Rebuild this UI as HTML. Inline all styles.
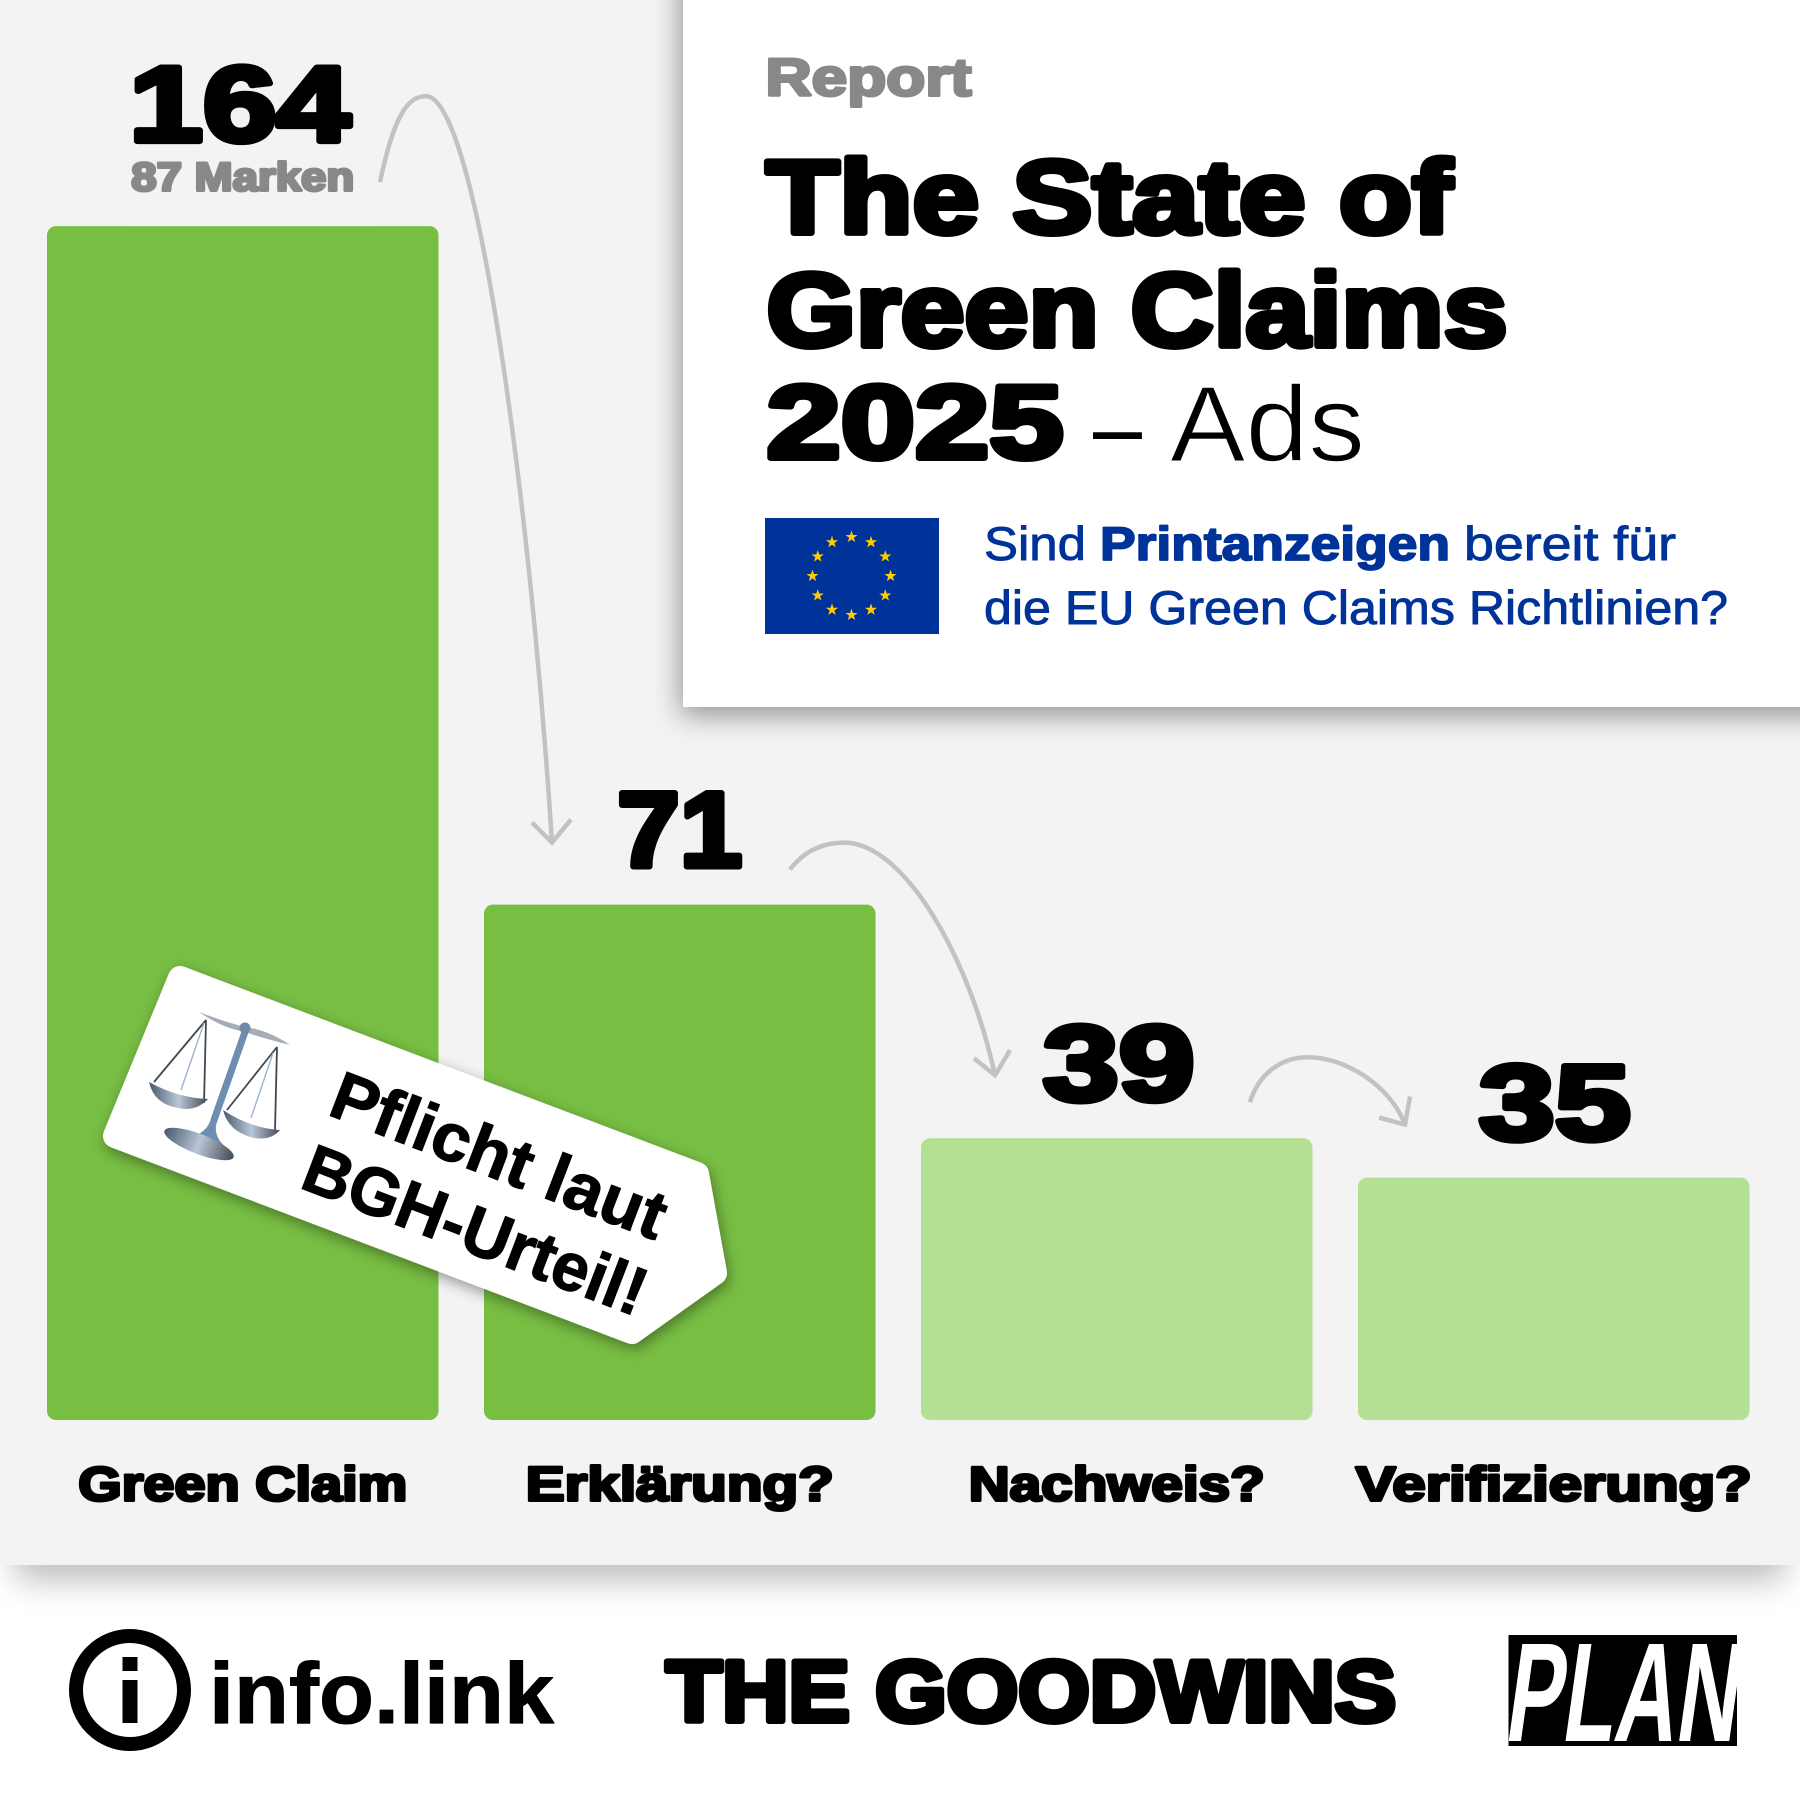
<!DOCTYPE html>
<html lang="de">
<head>
<meta charset="utf-8">
<title>The State of Green Claims 2025 – Ads</title>
<style>
  html, body { margin: 0; padding: 0; background: #fff; }
  #stage { position: relative; width: 1800px; height: 1800px; overflow: hidden; background: #fff; font-family: "Liberation Sans", sans-serif; }
  #panel { position: absolute; left: 0; top: 0; width: 1800px; height: 1565px; background: #f3f3f3; box-shadow: 0 30px 30px -15px rgba(0,0,0,.26); }
  #card { position: absolute; left: 683px; top: -40px; width: 1200px; height: 747px; background: #fff; box-shadow: -2px 8px 26px rgba(0,0,0,.4); }
  svg { position: absolute; left: 0; top: 0; }
  text { font-family: "Liberation Sans", sans-serif; }
  .heavy { font-weight: 700; stroke-linejoin: round; paint-order: stroke fill; }
</style>
</head>
<body>
<div id="stage">
  <div id="panel"></div>
  <div id="card"></div>
  <svg id="chart" width="1800" height="1800" viewBox="0 0 1800 1800" xmlns="http://www.w3.org/2000/svg">
    <defs>
      <filter id="sign-shadow" x="-15%" y="-15%" width="130%" height="130%">
        <feDropShadow dx="2" dy="5" stdDeviation="7" flood-color="#000" flood-opacity=".38"/>
      </filter>
      <linearGradient id="metal" x1="0" y1="0" x2="1" y2="0">
        <stop offset="0" stop-color="#4a5a70"/>
        <stop offset=".5" stop-color="#b9c6d6"/>
        <stop offset="1" stop-color="#444b55"/>
      </linearGradient>
      <clipPath id="plan-clip"><rect x="1508.5" y="1635" width="228.5" height="111"/></clipPath>
    </defs>

    <g id="bars"></g>
    <g id="arrows"></g>
    <g id="value-labels"></g>
    <g id="category-labels"></g>

    <!-- Header -->
    <text class="heavy" x="765.5" y="95.5" font-size="53" fill="#888" stroke="#888" stroke-width="3" textLength="206" lengthAdjust="spacingAndGlyphs">Report</text>
    <text class="heavy" x="766" y="233" font-size="104" fill="#000" stroke="#000" stroke-width="6" textLength="686" lengthAdjust="spacingAndGlyphs">The State of</text>
    <text class="heavy" x="766.500" y="346" font-size="104" fill="#000" stroke="#000" stroke-width="6" textLength="741" lengthAdjust="spacingAndGlyphs">Green Claims</text>
    <text class="heavy" x="766.500" y="458" font-size="104" fill="#000" stroke="#000" stroke-width="6" textLength="297" lengthAdjust="spacingAndGlyphs">2025</text>
    <text x="1093" y="461" font-size="100" fill="#000" textLength="49" lengthAdjust="spacingAndGlyphs">–</text>
    <text x="1170" y="461" font-size="108" fill="#000" stroke="#fff" stroke-width="1.6" textLength="195" lengthAdjust="spacingAndGlyphs">Ads</text>

    <rect x="765" y="518" width="174" height="116" fill="#003399"/>
    <g id="eu-stars"></g>

    <text x="984" y="560" font-size="47" fill="#003399" stroke="#003399" stroke-width=".9" textLength="102" lengthAdjust="spacingAndGlyphs">Sind</text>
    <text class="heavy" x="1100" y="560" font-size="47" fill="#003399" stroke="#003399" stroke-width="1.8" textLength="350" lengthAdjust="spacingAndGlyphs">Printanzeigen</text>
    <text x="1464" y="560" font-size="47" fill="#003399" stroke="#003399" stroke-width=".9" textLength="212" lengthAdjust="spacingAndGlyphs">bereit für</text>
    <text x="984" y="624" font-size="47" fill="#003399" stroke="#003399" stroke-width=".9" textLength="744" lengthAdjust="spacingAndGlyphs">die EU Green Claims Richtlinien?</text>

    <!-- Sign -->
    <g>
      <polygon points="180,978 697,1174 715,1273 632,1332 115,1136" fill="#fff" stroke="#fff" stroke-width="24" stroke-linejoin="round" filter="url(#sign-shadow)"/>
      <g>
        <g stroke="#3f4852" stroke-width="1.8" fill="none">
          <path d="M206,1020 L154,1082 M206,1020 L204,1103 M277,1047 L227,1110 M277,1047 L275,1130"/>
        </g>
        <g stroke="#9fb2cc" stroke-width="1.4" fill="none">
          <path d="M204,1023 L181,1090 M273,1053 L251,1118"/>
        </g>
        <path d="M149,1082 Q178,1098 208,1099 Q196,1112 178,1108 Q154,1104 149,1082 Z" fill="url(#metal)"/>
        <path d="M223,1110 Q250,1128 280,1130 Q270,1142 250,1137 Q228,1130 223,1110 Z" fill="url(#metal)"/>
        <path d="M199,1012 Q225,1022 245,1027 Q268,1030 290,1045 Q262,1038 245,1032 Q222,1028 199,1012 Z" fill="#a6adb8"/>
        <path d="M242,1030 L249,1031 L216,1125 Q214,1140 230,1150 L190,1138 Q208,1132 211,1118 Z" fill="#6f8db0"/>
        <circle cx="245" cy="1028" r="5.500" fill="#6f8aa8"/>
        <ellipse cx="199" cy="1144" rx="37" ry="10" transform="rotate(21 199 1144)" fill="url(#metal)"/>
      </g>
      <text x="0" y="0" transform="translate(326,1114) rotate(21)" font-size="68" font-weight="700" fill="#000" stroke="#000" stroke-width="1.2" textLength="353" lengthAdjust="spacingAndGlyphs">Pflicht laut</text>
      <text x="0" y="0" transform="translate(298,1187) rotate(21)" font-size="68" font-weight="700" fill="#000" stroke="#000" stroke-width="1.2" textLength="362" lengthAdjust="spacingAndGlyphs">BGH-Urteil!</text>
    </g>

    <!-- Footer logos -->
    <g>
      <circle cx="130" cy="1690" r="54" fill="none" stroke="#000" stroke-width="14"/>
      <rect x="122.500" y="1657" width="15" height="14" fill="#000"/>
      <rect x="122.500" y="1680" width="15" height="43" fill="#000"/>
      <text class="heavy" x="209" y="1723" font-size="86" fill="#000" stroke="#000" stroke-width="1" textLength="345" lengthAdjust="spacingAndGlyphs">info.link</text>
    </g>
    <text class="heavy" x="666" y="1721" font-size="86" fill="#000" stroke="#000" stroke-width="6" textLength="730" lengthAdjust="spacingAndGlyphs">THE GOODWINS</text>
    <g>
      <rect x="1508.5" y="1635" width="228.5" height="111" fill="#000"/>
      <g clip-path="url(#plan-clip)">
        <text transform="translate(1503,1741) skewX(-8)" x="0" y="0" font-size="141" font-weight="700" fill="#fff" textLength="232" lengthAdjust="spacingAndGlyphs">PLAN</text>
      </g>
    </g>
  </svg>
</div>

<script>
const categories = ['Green Claim', 'Erklärung?', 'Nachweis?', 'Verifizierung?'];
const barValues = [164, 70.8, 38.7, 33.3];
const valueLabels = ['164', '71', '39', '35'];
const barEmphasis = [true, true, false, false];

const SVG_NS = 'http://www.w3.org/2000/svg';

function xBand(i) { return 47 + i * 437; }
const bandWidth = 391.5;
function yValue(v) { return 1420 - v * 7.28; }

function drawBars() {
  const host = document.getElementById('bars');
  barValues.forEach(function (v, i) {
    const rect = document.createElementNS(SVG_NS, 'rect');
    rect.setAttribute('x', xBand(i));
    rect.setAttribute('y', yValue(v));
    rect.setAttribute('width', bandWidth);
    rect.setAttribute('height', yValue(0) - yValue(v));
    rect.setAttribute('rx', 9);
    rect.setAttribute('fill', barEmphasis[i] ? '#78be43' : '#b5df93');
    
    
    host.appendChild(rect);
  });
}

function drawValueLabels() {
  const host = document.getElementById('value-labels');
  const fit = [221, 125, 152, 152];
  const shift = [-3, 0, 2, 1];
  valueLabels.forEach(function (label, i) {
    const t = document.createElementNS(SVG_NS, 'text');
    const gap = i === 0 ? 85 : 38;
    t.setAttribute('class', 'heavy');
    t.setAttribute('x', xBand(i) + bandWidth / 2 + shift[i]);
    t.setAttribute('y', yValue(barValues[i]) - gap);
    t.setAttribute('text-anchor', 'middle');
    t.setAttribute('font-size', 107);
    t.setAttribute('fill', '#000');
    t.setAttribute('stroke', '#000');
    t.setAttribute('stroke-width', 6);
    t.setAttribute('textLength', fit[i]);
    t.setAttribute('lengthAdjust', 'spacingAndGlyphs');
    
    
    t.textContent = label;
    host.appendChild(t);
  });
  const sub = document.createElementNS(SVG_NS, 'text');
  sub.setAttribute('class', 'heavy');
  sub.setAttribute('x', xBand(0) + bandWidth / 2);
  sub.setAttribute('y', yValue(barValues[0]) - 35.5);
  sub.setAttribute('text-anchor', 'middle');
  sub.setAttribute('font-size', 40);
  sub.setAttribute('fill', '#888');
  sub.setAttribute('stroke', '#888');
  sub.setAttribute('stroke-width', 3);
  sub.setAttribute('textLength', 223);
  sub.setAttribute('lengthAdjust', 'spacingAndGlyphs');
  
  
  sub.textContent = '87 Marken';
  host.appendChild(sub);
}

function drawCategoryLabels() {
  const host = document.getElementById('category-labels');
  const fit = [329, 308, 296, 396];
  categories.forEach(function (name, i) {
    const t = document.createElementNS(SVG_NS, 'text');
    t.setAttribute('class', 'heavy');
    t.setAttribute('x', xBand(i) + bandWidth / 2);
    t.setAttribute('y', 1500.5);
    t.setAttribute('text-anchor', 'middle');
    t.setAttribute('font-size', 48);
    t.setAttribute('fill', '#000');
    t.setAttribute('stroke', '#000');
    t.setAttribute('stroke-width', 3);
    t.setAttribute('textLength', fit[i]);
    t.setAttribute('lengthAdjust', 'spacingAndGlyphs');
    
    
    t.textContent = name;
    host.appendChild(t);
  });
}

function drawArrows() {
  const host = document.getElementById('arrows');
  // Each arrow leaves above one bar and lands above the next one.
  const shapes = [
    { sx: 333, sy: 44, ex: 68, ey: 62, px: 46, py: -86, a: [15, -72, 30, -86], b: [50, 0, 104, 404], h: [-20, -20, 19, -23] },
    { sx: 306, sy: 35, ex: 74, ey: 63, px: 54, py: -27, a: [15, -20, 35, -27], b: [61, 0, 126, 117], h: [-21, -17, 15, -25] },
    { sx: 329, sy: 36, ex: 47, ey: 53, px: 58, py: -45, a: [8, -27, 30, -45], b: [37, 0, 82, 28], h: [-26, -7, 5, -28] }
  ];
  shapes.forEach(function (s, i) {
    const x0 = xBand(i) + s.sx;
    const y0 = yValue(barValues[i]) - s.sy;
    const x1 = xBand(i + 1) + s.ex;
    const y1 = yValue(barValues[i + 1]) - s.ey;
    const px = x0 + s.px;
    const py = y0 + s.py;
    const d = 'M' + x0 + ',' + y0 +
      ' C' + (x0 + s.a[0]) + ',' + (y0 + s.a[1]) + ' ' + (x0 + s.a[2]) + ',' + py + ' ' + px + ',' + py +
      ' C' + (px + s.b[0]) + ',' + py + ' ' + (px + s.b[2]) + ',' + (py + s.b[3]) + ' ' + x1 + ',' + y1;
    const line = document.createElementNS(SVG_NS, 'path');
    line.setAttribute('d', d);
    line.setAttribute('fill', 'none');
    line.setAttribute('stroke', '#c2c2c2');
    line.setAttribute('stroke-width', 4.5);
    
    
    host.appendChild(line);
    const head = document.createElementNS(SVG_NS, 'path');
    head.setAttribute('d', 'M' + (x1 + s.h[0]) + ',' + (y1 + s.h[1]) + ' L' + x1 + ',' + y1 + ' L' + (x1 + s.h[2]) + ',' + (y1 + s.h[3]));
    head.setAttribute('fill', 'none');
    head.setAttribute('stroke', '#c2c2c2');
    head.setAttribute('stroke-width', 4.5);
    
    
    host.appendChild(head);
  });
}

function drawStars() {
  const host = document.getElementById('eu-stars');
  for (let k = 0; k < 12; k++) {
    const a = k * Math.PI / 6;
    const cx = 851.5 + 39 * Math.sin(a);
    const cy = 576 - 39 * Math.cos(a);
    let pts = '';
    for (let j = 0; j < 10; j++) {
      const r = j % 2 === 0 ? 6.4 : 2.5;
      const t = j * Math.PI / 5;
      pts += (cx + r * Math.sin(t)).toFixed(2) + ',' + (cy - r * Math.cos(t)).toFixed(2) + ' ';
    }
    const star = document.createElementNS(SVG_NS, 'polygon');
    star.setAttribute('points', pts);
    star.setAttribute('fill', '#ffcc00');
    
    
    host.appendChild(star);
  }
}

drawBars();
drawArrows();
drawValueLabels();
drawCategoryLabels();
drawStars();
</script>
</body>
</html>
